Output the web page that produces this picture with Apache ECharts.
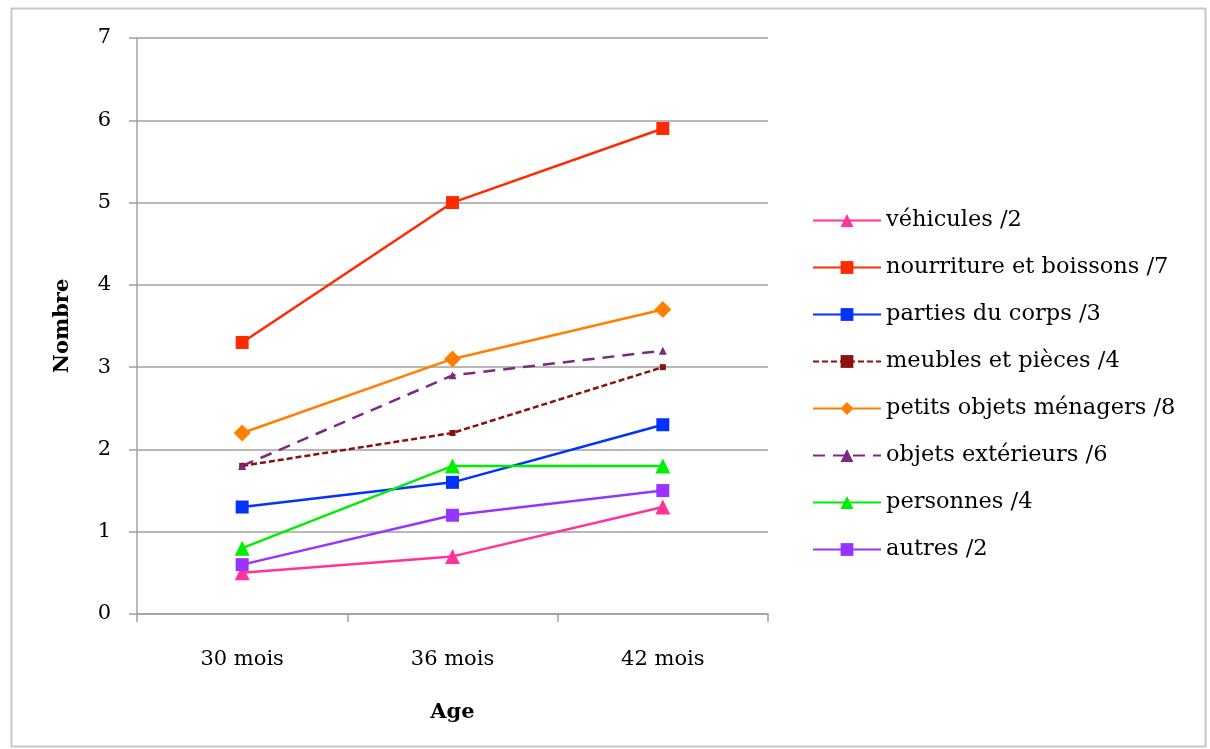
<!DOCTYPE html>
<html><head><meta charset="utf-8">
<script src="https://cdn.jsdelivr.net/npm/echarts@6/dist/echarts.min.js"></script>
<style>html,body{margin:0;padding:0;background:#fff}#c{width:1210px;height:749px}</style>
</head><body><div id="c"></div>
<script>
const categories = ['30 mois', '36 mois', '42 mois'];
const yTicks = [0, 1, 2, 3, 4, 5, 6, 7];
const vehicules = [0.5, 0.7, 1.3];
const nourriture = [3.3, 5.0, 5.9];
const parties = [1.3, 1.6, 2.3];
const meubles = [1.8, 2.2, 3.0];
const petits = [2.2, 3.1, 3.7];
const exterieurs = [1.8, 2.9, 3.2];
const personnes = [0.8, 1.8, 1.8];
const autres = [0.6, 1.2, 1.5];
const names = ['véhicules /2', 'nourriture et boissons /7', 'parties du corps /3', 'meubles et pièces /4', 'petits objets ménagers /8', 'objets extérieurs /6', 'personnes /4', 'autres /2'];

const FONT = 'DejaVu Serif';
const chart = echarts.init(document.getElementById('c'));
function s(name, data, color, symbol, size, dash, width) {
  return {
    name, type: 'line', data, symbol, symbolSize: size,
    itemStyle: { color },
    lineStyle: { color, width: width || 2.5, type: dash || 'solid' },
    emphasis: { disabled: true }, animation: false
  };
}
chart.setOption({
  animation: false,
  textStyle: { fontFamily: FONT },
  graphic: [{ type: 'rect', shape: { x: 11.5, y: 8.5, width: 1194, height: 738 }, style: { fill: 'none', stroke: '#c8c8c8', lineWidth: 2 } }],
  grid: { left: 137, right: 442, top: 38, bottom: 135 },
  xAxis: {
    type: 'category', data: categories, boundaryGap: true,
    name: 'Age', nameLocation: 'middle', nameGap: 88,
    nameTextStyle: { fontFamily: FONT, fontWeight: 'bold', fontSize: 21, color: '#000' },
    axisLine: { lineStyle: { color: '#a0a0a0', width: 1.5 } },
    axisTick: { show: true, length: 8, lineStyle: { color: '#a0a0a0', width: 1.5 } },
    axisLabel: { fontFamily: FONT, fontSize: 21, color: '#000', margin: 35 },
    splitLine: { show: false }
  },
  yAxis: {
    type: 'value', min: 0, max: 7, interval: 1,
    name: 'Nombre', nameLocation: 'middle', nameGap: 64, nameRotate: 90,
    nameTextStyle: { fontFamily: FONT, fontWeight: 'bold', fontSize: 21, color: '#000' },
    axisLine: { show: true, lineStyle: { color: '#a0a0a0', width: 1.5 } },
    axisTick: { show: true, length: 8, lineStyle: { color: '#a0a0a0', width: 1.5 } },
    axisLabel: { fontFamily: FONT, fontSize: 21, color: '#000', margin: 26, formatter: v => yTicks.includes(v) ? String(v) : '' },
    splitLine: { show: true, lineStyle: { color: '#a0a0a0', width: 1.5 } }
  },
  legend: {
    orient: 'vertical', left: 812, top: 209, padding: 0, itemWidth: 68, itemHeight: 16, itemGap: 24,
    textStyle: { fontFamily: FONT, fontSize: 22.5, color: '#000' },
    data: names
  },
  series: [
    s(names[0], vehicules, '#ff3399', 'triangle', 15),
    s(names[1], nourriture, '#ff2a00', 'rect', 13),
    s(names[2], parties, '#0033ff', 'rect', 13),
    s(names[3], meubles, '#8b1111', 'rect', 6, [6, 3], 2.5),
    s(names[4], petits, '#ff7f00', 'diamond', 17),
    s(names[5], exterieurs, '#7a2a80', 'triangle', 8, [12, 8], 2.5),
    s(names[6], personnes, '#00ee00', 'triangle', 15),
    s(names[7], autres, '#9933ff', 'rect', 13)
  ]
});
</script></body></html>
